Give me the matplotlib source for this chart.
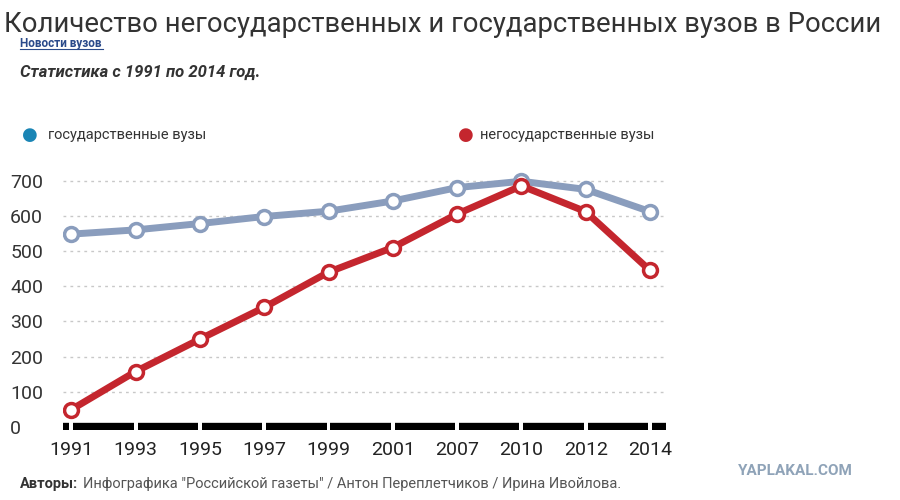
import numpy as np
import matplotlib.pyplot as plt

plt.rcParams['font.family'] = ['Roboto', 'DejaVu Sans']

years = ['1991', '1993', '1995', '1997', '1999', '2001', '2007', '2010', '2012', '2014']
state = [548, 560, 578, 598, 613, 642, 680, 698, 675, 612]
private = [50, 158, 250, 340, 440, 510, 605, 685, 612, 445]

fig = plt.figure(figsize=(9, 5), dpi=100)
ax = fig.add_axes([0.07, 0.14, 0.67, 0.52])
x = np.arange(len(years))

for v in range(100, 800, 100):
    ax.axhline(v, color='#c8c8c8', lw=1, ls=(0, (2, 3)), zorder=0)

# black dashed base bar, gaps at each tick
gap = 0.03
for i in range(len(x) - 1):
    ax.plot([x[i] + gap, x[i + 1] - gap], [0, 0], color='black', lw=6, solid_capstyle='butt', zorder=1)
ax.plot([-0.13, -gap], [0, 0], color='black', lw=6, solid_capstyle='butt')
ax.plot([x[-1] + gap, x[-1] + 0.25], [0, 0], color='black', lw=6, solid_capstyle='butt')

ax.plot(x, state, color='#8a9dbd', lw=5, marker='o', ms=10, mfc='white', mec='#8a9dbd', mew=2.5, zorder=3)
ax.plot(x, private, color='#c4262e', lw=5, marker='o', ms=10, mfc='white', mec='#c4262e', mew=2.5, zorder=4)

ax.set_xlim(-0.13, len(x) - 0.75)
ax.set_ylim(-8, 730)
ax.set_xticks(x)
ax.set_xticklabels(years, fontsize=14, color='#222222')
ax.set_yticks(range(0, 800, 100))
ax.set_yticklabels([str(v) for v in range(0, 800, 100)], fontsize=14, color='#333333', ha='left')
ax.tick_params(length=0)
ax.tick_params(axis='y', pad=38)
ax.tick_params(axis='x', pad=8)
for s in ax.spines.values():
    s.set_visible(False)

fig.text(0.005, 0.978, 'Количество негосударственных и государственных вузов в России', fontsize=19.8, color='#333333', va='top')
fig.text(0.022, 0.925, 'Новости вузов', fontsize=8.5, color='#2a4a8a', va='top', fontweight='bold')
fig.add_artist(plt.Line2D([0.022, 0.114], [0.903, 0.903], color='#2a4a8a', lw=0.8))
fig.text(0.022, 0.87, 'Статистика с 1991 по 2014 год.', fontsize=12, color='#333333', va='top',
         fontweight='bold', style='italic')

fig.text(0.033, 0.73, '●', fontsize=13, color='#1a85b5', va='center', ha='center')
fig.text(0.053, 0.73, 'государственные вузы', fontsize=10.5, color='#333333', va='center')
fig.text(0.518, 0.73, '●', fontsize=13, color='#c4262e', va='center', ha='center')
fig.text(0.533, 0.73, 'негосударственные вузы', fontsize=10.5, color='#333333', va='center')

fig.text(0.82, 0.058, 'YAPLAKAL.COM', fontsize=11, color='#8fa3b8', fontweight='bold', va='center')
fig.text(0.022, 0.018, 'Авторы:', fontsize=10.5, color='#333333', fontweight='bold', va='bottom')
fig.text(0.092, 0.018, 'Инфографика "Российской газеты" / Антон Переплетчиков / Ирина Ивойлова.',
         fontsize=10.5, color='#555555', va='bottom')

fig.savefig('out.png', dpi=100)
